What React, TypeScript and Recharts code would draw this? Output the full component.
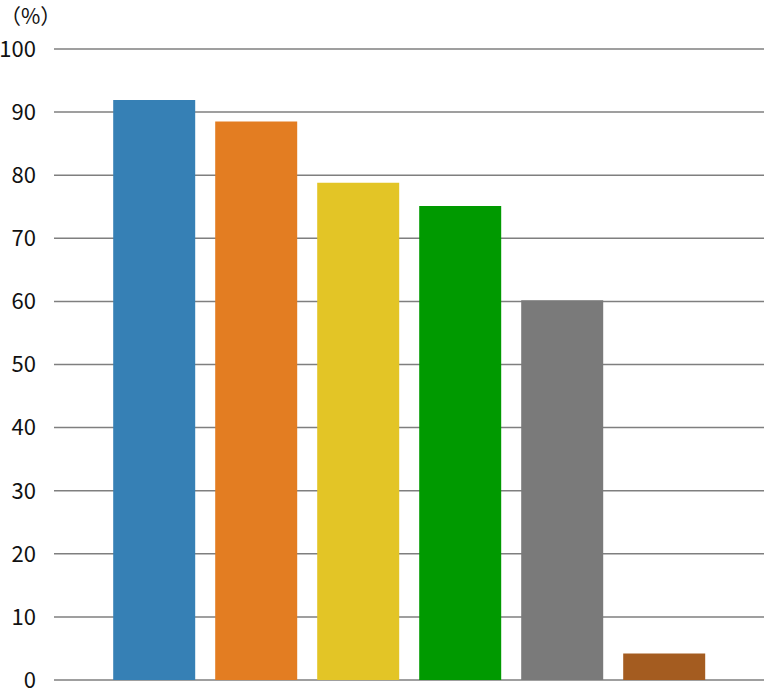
import { BarChart, Bar, Cell, XAxis, YAxis, CartesianGrid } from 'recharts'

const CATEGORIES = ['A', 'B', 'C', 'D', 'E', 'F']
const VALUES = [91.9, 88.5, 78.8, 75.1, 60.2, 4.2]
const COLORS = ['#3680b5', '#e37d22', '#e3c526', '#009a00', '#7a7a7a', '#a45c20']
const Y_TICKS = [0, 10, 20, 30, 40, 50, 60, 70, 80, 90, 100]

const FONT = '"Noto Sans CJK JP", "Noto Sans", sans-serif'

const data = CATEGORIES.map((name, i) => ({ name, value: VALUES[i] }))

export default function App() {
  return (
    <div style={{ position: 'absolute', left: 0, top: 0, width: 764, height: 690, background: '#fff', fontFamily: FONT }}>
      {/* unit label */}
      <div style={{ position: 'absolute', left: 0, top: 0, fontSize: 21, color: '#111', lineHeight: '31px', zIndex: 1 }}>（%）</div>
      <BarChart
        width={764}
        height={690}
        data={data}
        margin={{ top: 49, right: 0, bottom: 10, left: 0 }}
        barCategoryGap="10%"
      >
        <CartesianGrid horizontal vertical={false} stroke="#7f7f7f" strokeWidth={1.5} />
        <XAxis dataKey="name" tick={false} axisLine={false} tickLine={false} height={0} padding={{ left: 49, right: 49 }} />
        <YAxis
          domain={[0, 100]}
          ticks={Y_TICKS}
          interval={0}
          width={54}
          axisLine={false}
          tickLine={false}
          tickMargin={12}
          tick={{ fontSize: 22, fill: '#111', fontFamily: FONT }}
        />
        <Bar dataKey="value" isAnimationActive={false}>
          {data.map((_, i) => (
            <Cell key={i} fill={COLORS[i % COLORS.length]} />
          ))}
        </Bar>
      </BarChart>
    </div>
  )
}
